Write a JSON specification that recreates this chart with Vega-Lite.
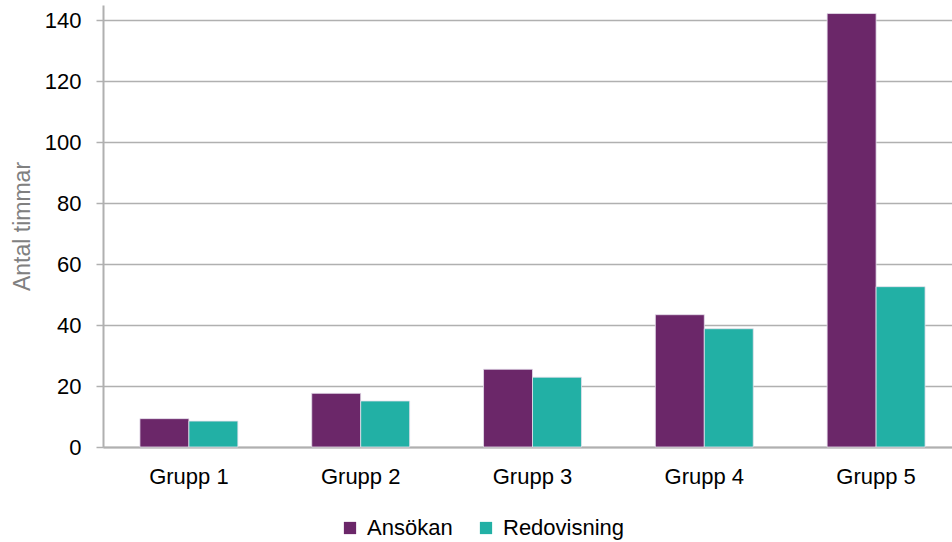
{
  "$schema": "https://vega.github.io/schema/vega-lite/v6.json",
  "width": 859,
  "height": 442,
  "autosize": "none",
  "padding": {"left": 103, "top": 5, "right": 0, "bottom": 95},
  "background": "white",
  "config": {
    "view": {"stroke": null},
    "font": "Liberation Sans"
  },
  "data": {
    "values": [
      {"grupp": "Grupp 1", "typ": "Ansökan", "timmar": 9.3},
      {"grupp": "Grupp 1", "typ": "Redovisning", "timmar": 8.5},
      {"grupp": "Grupp 2", "typ": "Ansökan", "timmar": 17.6},
      {"grupp": "Grupp 2", "typ": "Redovisning", "timmar": 15.1},
      {"grupp": "Grupp 3", "typ": "Ansökan", "timmar": 25.5},
      {"grupp": "Grupp 3", "typ": "Redovisning", "timmar": 22.9},
      {"grupp": "Grupp 4", "typ": "Ansökan", "timmar": 43.4},
      {"grupp": "Grupp 4", "typ": "Redovisning", "timmar": 38.8},
      {"grupp": "Grupp 5", "typ": "Ansökan", "timmar": 142.2},
      {"grupp": "Grupp 5", "typ": "Redovisning", "timmar": 52.6}
    ]
  },
  "mark": {"type": "bar", "stroke": "#E6E0EC", "strokeWidth": 0.8},
  "encoding": {
    "x": {
      "field": "grupp",
      "type": "nominal",
      "scale": {"paddingInner": 0.43, "paddingOuter": 0.215},
      "axis": {
        "title": null,
        "labelAngle": 0,
        "labelFontSize": 22,
        "labelColor": "#000000",
        "labelPadding": 19,
        "ticks": false,
        "domainColor": "#B0B0B0",
        "domainWidth": 2
      }
    },
    "xOffset": {"field": "typ", "type": "nominal", "sort": ["Ansökan", "Redovisning"]},
    "y": {
      "field": "timmar",
      "type": "quantitative",
      "scale": {"domain": [0, 145], "nice": false},
      "axis": {
        "title": "Antal timmar",
        "titleFontSize": 23,
        "titleFontWeight": "normal",
        "titleColor": "#808080",
        "titlePadding": 10,
        "values": [0, 20, 40, 60, 80, 100, 120, 140],
        "labelFontSize": 22,
        "labelColor": "#000000",
        "labelPadding": 15,
        "tickSize": 7,
        "tickColor": "#B0B0B0",
        "tickWidth": 1.5,
        "domainColor": "#B0B0B0",
        "domainWidth": 2,
        "gridColor": "#B0B0B0",
        "gridWidth": 1.5
      }
    },
    "color": {
      "field": "typ",
      "type": "nominal",
      "scale": {"domain": ["Ansökan", "Redovisning"], "range": ["#6B2769", "#22B0A5"]},
      "legend": {
        "title": null,
        "orient": "none",
        "direction": "horizontal",
        "legendX": 236,
        "legendY": 512,
        "symbolType": "square",
        "symbolSize": 150,
        "symbolStrokeWidth": 0,
        "labelFontSize": 22,
        "labelColor": "#000000",
        "columnPadding": 22,
        "labelOffset": 6
      }
    }
  }
}
